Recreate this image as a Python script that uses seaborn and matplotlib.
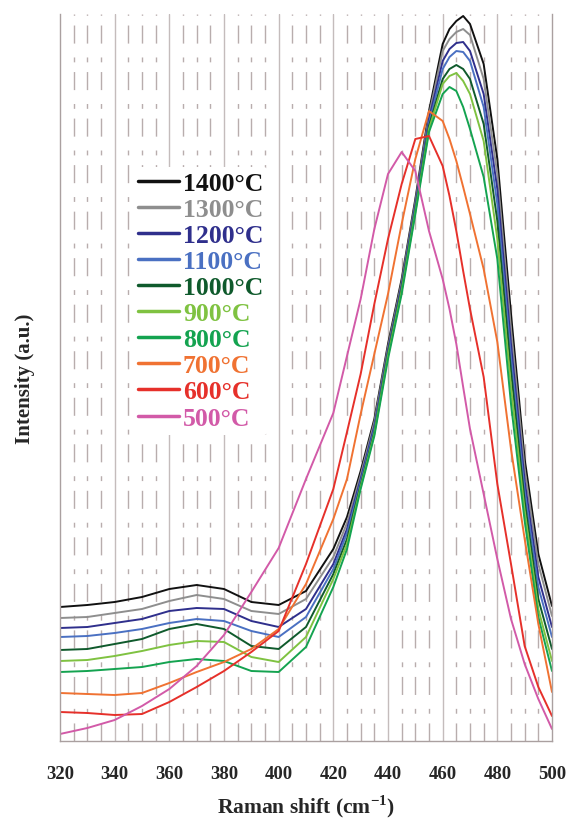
import numpy as np
import pandas as pd
import matplotlib
matplotlib.use("Agg")
import matplotlib.pyplot as plt
import seaborn as sns

# Raman spectra of samples annealed at different temperatures
shift = [320, 330, 340, 350, 360, 370, 380, 390, 400, 410, 420, 425, 430, 435,
         440, 445, 450, 455, 460, 462.5, 465, 467.5, 470, 475, 480, 485, 490, 495, 500]

i1400 = [134, 136, 139, 144, 152, 156, 152, 139, 136, 150, 192, 224, 270, 322,
         397, 462, 542, 630, 697, 712, 720, 725, 717, 677, 582, 427, 282, 187, 135]
i1300 = [123, 124, 128, 132, 140, 146, 142, 130, 127, 142, 184, 218, 266, 319,
         394, 459, 539, 626, 690, 702, 709, 712, 706, 662, 567, 412, 272, 177, 125]
i1200 = [113, 114, 118, 122, 130, 133, 132, 120, 114, 132, 177, 212, 262, 315,
         391, 456, 536, 622, 680, 692, 698, 699, 690, 647, 552, 397, 260, 164, 114]
i1100 = [104, 105, 108, 112, 118, 122, 120, 110, 104, 124, 172, 208, 259, 312,
         388, 453, 533, 618, 672, 684, 690, 689, 680, 634, 537, 384, 250, 154, 104]
i1000 = [91, 92, 97, 102, 112, 117, 112, 95, 92, 114, 167, 202, 256, 309,
         387, 452, 531, 615, 662, 672, 676, 672, 662, 617, 520, 370, 240, 142, 92]
i900 = [80, 81, 85, 90, 96, 100, 99, 84, 79, 104, 162, 197, 254, 307,
        385, 450, 529, 612, 657, 665, 668, 660, 647, 600, 502, 354, 230, 132, 80]
i800 = [69, 70, 72, 74, 79, 82, 80, 70, 69, 94, 154, 192, 252, 305,
        382, 447, 527, 609, 647, 654, 650, 634, 612, 564, 482, 337, 220, 124, 70]
i700 = [48, 47, 46, 48, 58, 69, 79, 92, 112, 157, 222, 262, 327, 387,
        447, 517, 582, 630, 620, 602, 580, 554, 527, 472, 399, 292, 202, 117, 49]
i600 = [29, 28, 26, 27, 39, 54, 70, 89, 110, 177, 252, 309, 367, 437,
        502, 557, 602, 605, 575, 545, 510, 470, 432, 364, 257, 177, 95, 54, 25]
i500 = [7, 13, 21, 35, 52, 75, 106, 149, 193, 262, 328, 385, 442, 512,
        567, 589, 570, 510, 462, 432, 397, 354, 312, 247, 182, 122, 77, 42, 12]

labels = ["1400°C", "1300°C", "1200°C", "1100°C", "1000°C",
          "900°C", "800°C", "700°C", "600°C", "500°C"]
colors = ["#111111", "#8e8e8e", "#2f2f8c", "#4a70c2", "#0f5a2c",
          "#7fc241", "#14a350", "#f07232", "#e6302a", "#d25aa8"]
spectra = [i1400, i1300, i1200, i1100, i1000, i900, i800, i700, i600, i500]

df = pd.concat([pd.DataFrame({"shift": shift, "intensity": s, "T": lab})
                for s, lab in zip(spectra, labels)], ignore_index=True)

sns.set_theme(style="white")
plt.rcParams["font.family"] = ["Liberation Serif", "DejaVu Serif"]
plt.rcParams["font.weight"] = "bold"
plt.rcParams["mathtext.fontset"] = "custom"
plt.rcParams["mathtext.rm"] = "Liberation Serif:bold"
plt.rcParams["mathtext.bf"] = "Liberation Serif:bold"

fig = plt.figure(figsize=(5.67, 8.2), dpi=100)
ax = fig.add_axes([60 / 567, 78 / 820, 492 / 567, 727 / 820])

# vertical grid: solid every 20, dash-dot every 5
for v in range(325, 500, 5):
    if v % 20 == 0:
        continue
    ax.axvline(v, color="#b8adad", lw=1.0, dashes=(13, 7, 3.5, 10), zorder=0)
for v in range(340, 500, 20):
    ax.axvline(v, color="#c4bcbc", lw=1.0, zorder=0)

sns.lineplot(data=df, x="shift", y="intensity", hue="T", hue_order=labels,
             palette=colors, lw=1.4, ax=ax, legend=True, sort=False)

ax.set_xlim(320, 500)
ax.set_ylim(0, 727)
ax.set_xticks(range(320, 501, 20))
ax.set_xticks(range(320, 501, 5), minor=True)
ax.set_yticks([])
ax.tick_params(axis="x", which="major", direction="out", length=5, width=1,
               color="#9a9090", labelsize=13.5, pad=12)
ax.tick_params(axis="x", which="minor", direction="in", length=3, width=0.8,
               color="#9a9090")
for lab in ax.get_xticklabels():
    lab.set_fontweight("bold")

ax.spines["top"].set_visible(False)
for side in ["left", "right", "bottom"]:
    ax.spines[side].set_color("#aaa0a0")
    ax.spines[side].set_linewidth(1.0)

ax.set_xlabel("Raman shift (cm$^{\\mathbf{-1}}$)", fontsize=15.5, fontweight="bold", labelpad=8)
ax.set_ylabel("Intensity (a.u.)", fontsize=15, fontweight="bold", labelpad=18)

leg = ax.legend(loc="upper left", bbox_to_anchor=(0.148, 0.79), borderaxespad=0,
                fontsize=18.5, handlelength=1.6, handletextpad=0.15,
                labelspacing=0.12, borderpad=0.2, frameon=True,
                facecolor="white", edgecolor="none", framealpha=1)
for txt, c, h in zip(leg.get_texts(), colors, leg.get_lines()):
    txt.set_color(c)
    txt.set_fontweight("bold")
    h.set_linewidth(2.5)

fig.savefig("out.png", dpi=100, facecolor="white")
